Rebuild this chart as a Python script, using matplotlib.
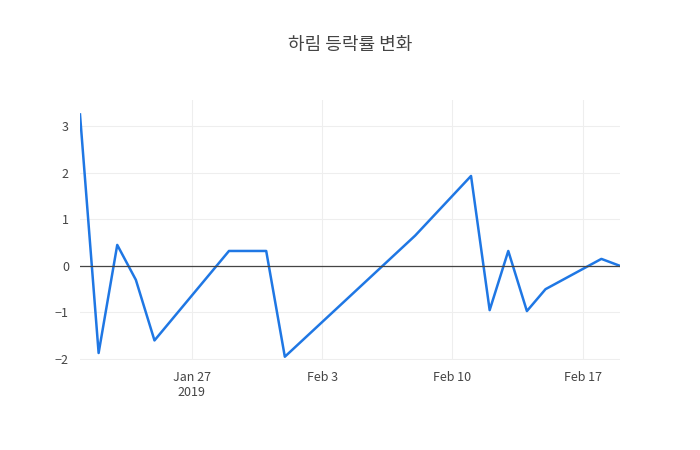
import matplotlib
matplotlib.use("Agg")
import matplotlib.pyplot as plt
import pandas as pd

plt.rcParams['font.family'] = ['Noto Sans CJK KR', 'DejaVu Sans']

dates = pd.to_datetime([
    "2019-01-21", "2019-01-22", "2019-01-23", "2019-01-24", "2019-01-25",
    "2019-01-29", "2019-01-31", "2019-02-01", "2019-02-08", "2019-02-11",
    "2019-02-12", "2019-02-13", "2019-02-14", "2019-02-15", "2019-02-18",
    "2019-02-19",
])
changes = [3.25, -1.87, 0.45, -0.3, -1.6, 0.32, 0.32, -1.95, 0.65, 1.93,
           -0.95, 0.32, -0.97, -0.5, 0.15, 0.0]

fig = plt.figure(figsize=(7, 4.5), dpi=100)
ax = fig.add_axes([80/700, 90/450, 540/700, 260/450])
ax.plot(dates, changes, color="#1f77e4", lw=1.8)
ax.axhline(0, color="#444444", lw=0.9)

ax.set_xlim(dates[0], dates[-1])
ax.set_ylim(-2.02, 3.56)
ax.set_yticks([-2, -1, 0, 1, 2, 3])
ax.set_yticklabels(["−2", "−1", "0", "1", "2", "3"])
ticks = pd.to_datetime(["2019-01-27", "2019-02-03", "2019-02-10", "2019-02-17"])
ax.set_xticks(ticks)
ax.set_xticklabels(["Jan 27\n2019", "Feb 3", "Feb 10", "Feb 17"])
ax.grid(True, color="#eeeeee", lw=0.8)
ax.set_axisbelow(True)
for s in ax.spines.values():
    s.set_visible(False)
ax.tick_params(length=0, labelsize=9, colors="#444444", pad=8)

fig.text(0.5, 1 - 45/450, "하림 등락률 변화", ha="center", va="center",
         fontsize=13, color="#444444")

fig.savefig("out.png", dpi=100)
